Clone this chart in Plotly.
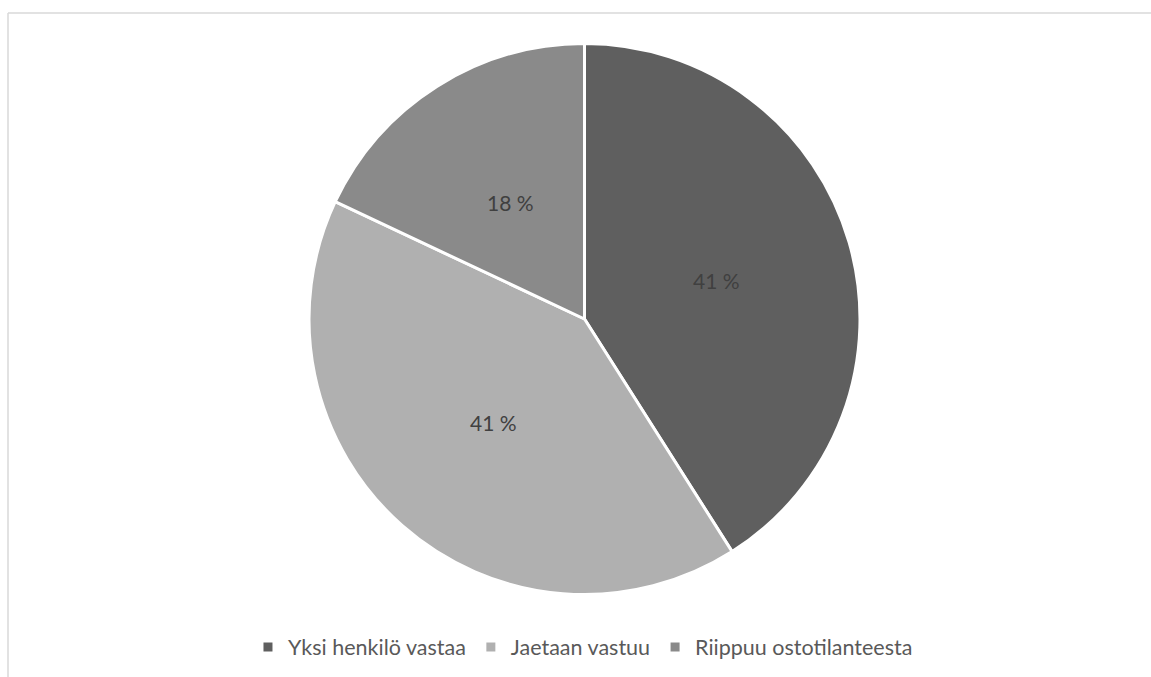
import math
import plotly.graph_objects as go

# Survey answers: who is responsible for purchasing
categories = ["Yksi henkilö vastaa", "Jaetaan vastuu", "Riippuu ostotilanteesta"]
shares = [41, 41, 18]
slice_colors = ["#5f5f5f", "#b0b0b0", "#8a8a8a"]

W, H = 1151, 677
CX, CY, R = 584.5, 319.0, 275.5  # pie centre and radius in pixels
FONT = "Lato, Open Sans, sans-serif"

fig = go.Figure(
    go.Pie(
        labels=categories,
        values=shares,
        sort=False,
        direction="clockwise",
        rotation=0,
        marker=dict(colors=slice_colors, line=dict(color="#ffffff", width=3)),
        textinfo="none",
        hoverinfo="label+percent",
        domain=dict(x=[(CX - R) / W, (CX + R) / W],
                    y=[1 - (CY + R) / H, 1 - (CY - R) / H]),
    )
)

# Data labels at half radius on each slice's bisector
total = sum(shares)
start = 0.0
for v in shares:
    mid = (start + v / 2) / total * 2 * math.pi  # clockwise from 12 o'clock
    start += v
    px = CX + 0.5 * R * math.sin(mid)
    py = CY - 0.5 * R * math.cos(mid)
    fig.add_annotation(
        x=px / W, y=1 - py / H, xref="paper", yref="paper",
        text=f"{v} %", showarrow=False,
        xanchor="center", yanchor="middle",
        font=dict(family=FONT, size=21, color="#404040"),
    )

# Thin light frame around the chart area
frame = dict(type="line", xref="paper", yref="paper",
             line=dict(color="#d9d9d9", width=1.5))
fig.add_shape(**frame, x0=8 / W, x1=1.0, y0=1 - 13 / H, y1=1 - 13 / H)
fig.add_shape(**frame, x0=8 / W, x1=8 / W, y0=1 - 13 / H, y1=0.0)

fig.update_layout(
    width=W,
    height=H,
    margin=dict(l=0, r=0, t=0, b=0),
    paper_bgcolor="#ffffff",
    plot_bgcolor="#ffffff",
    showlegend=True,
    legend=dict(
        orientation="h",
        x=0.5065,
        xanchor="center",
        y=1 - 647 / H,
        yanchor="middle",
        font=dict(family=FONT, size=21.5, color="#595959"),
        itemwidth=30,
        traceorder="normal",
    ),
)

fig.write_html("out.html")
